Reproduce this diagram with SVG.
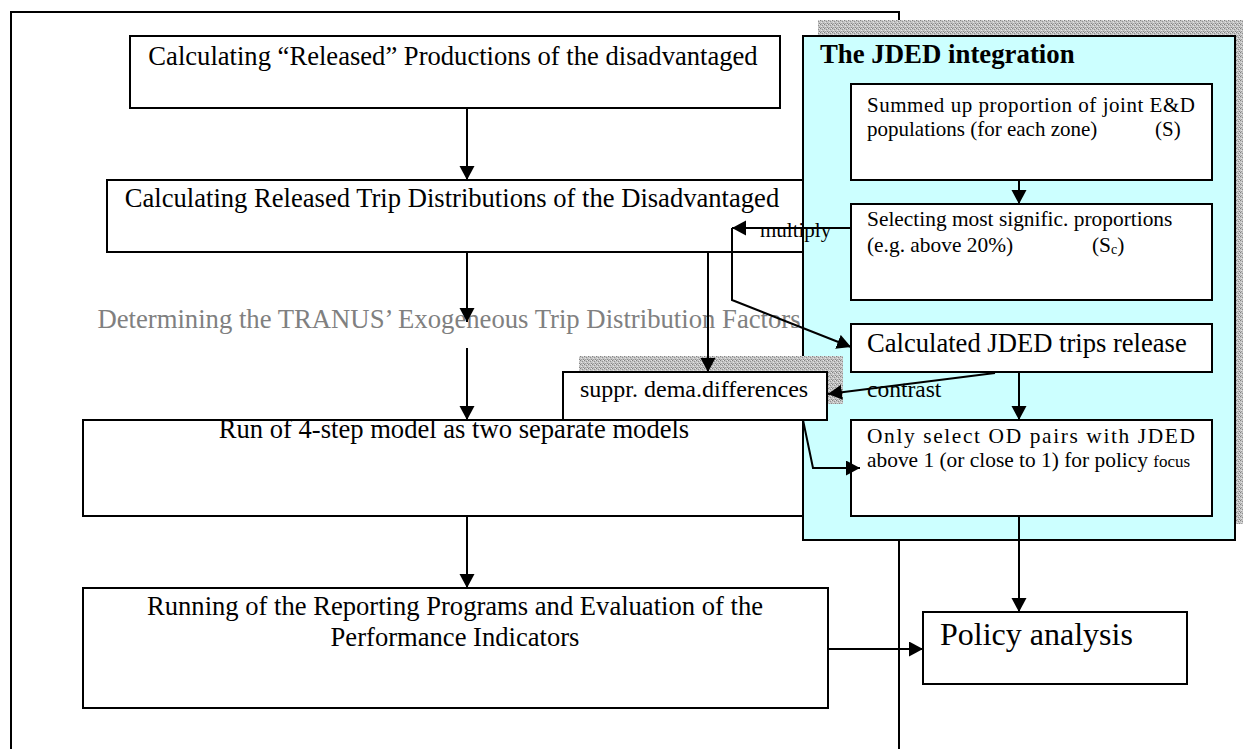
<svg xmlns="http://www.w3.org/2000/svg" width="1247" height="749" viewBox="0 0 1247 749">
<defs>
<style>
.box{fill:#fff;stroke:#000;stroke-width:2}
.t{font-family:"Liberation Serif","Times New Roman",serif;fill:#000}
.ln{fill:none;stroke:#000;stroke-width:2}
</style>
<pattern id="shade" width="4" height="4" patternUnits="userSpaceOnUse">
<rect width="4" height="4" fill="#c4c4c4"/>
<rect x="0" y="0" width="1" height="1" fill="#808080"/>
<rect x="2" y="1" width="1" height="1" fill="#909090"/>
<rect x="1" y="2" width="1" height="1" fill="#e4e4e4"/>
<rect x="3" y="3" width="1" height="1" fill="#888888"/>
<rect x="3" y="0" width="1" height="1" fill="#e8e8e8"/>
<rect x="1" y="3" width="1" height="1" fill="#a0a0a0"/>
</pattern>
<marker id="ah" markerUnits="userSpaceOnUse" markerWidth="16" markerHeight="16" refX="14" refY="7.5" orient="auto">
<path d="M0,0 L14,7.5 L0,15 z" fill="#000"/>
</marker>
</defs>

<g id="frame">
<polyline class="ln" points="11,749 11,12 899,12 899,749"/>
</g>

<g id="n-released-productions">
<rect class="box" x="130" y="36" width="650" height="72"/>
<text class="t" x="453" y="65" font-size="26.6" text-anchor="middle">Calculating “Released” Productions of the disadvantaged</text>
</g>

<g id="n-released-distributions">
<rect class="box" x="107" y="180" width="710" height="72"/>
<text class="t" x="452" y="207" font-size="26.6" text-anchor="middle">Calculating Released Trip Distributions of the Disadvantaged</text>
</g>

<g id="n-determining">
<text class="t" x="449" y="328" font-size="26.7" text-anchor="middle" style="fill:#808080">Determining the TRANUS’ Exogeneous Trip Distribution Factors</text>
</g>

<g id="n-run">
<rect class="box" x="83" y="420" width="745" height="96"/>
<text class="t" x="454" y="438" font-size="26.6" text-anchor="middle">Run of 4-step model as two separate models</text>
</g>

<g id="n-running">
<rect class="box" x="83" y="588" width="745" height="120"/>
<text class="t" x="455" y="615" font-size="26.6" text-anchor="middle">Running of the Reporting Programs and Evaluation of the</text>
<text class="t" x="455" y="646" font-size="26.6" text-anchor="middle">Performance Indicators</text>
</g>

<g id="n-jded-panel">
<rect x="818" y="20" width="425" height="504" fill="url(#shade)"/>
<rect x="803" y="36" width="432" height="504" fill="#ccffff" stroke="#000" stroke-width="2"/>
<text class="t" x="820" y="63" font-size="26.8" font-weight="bold">The JDED integration</text>
</g>

<g id="n-summed">
<rect class="box" x="851" y="84" width="361" height="96"/>
<text class="t" x="867" y="112" font-size="21" textLength="328" lengthAdjust="spacing">Summed up proportion of joint E&amp;D</text>
<text class="t" x="867" y="136" font-size="21">populations (for each zone)</text>
<text class="t" x="1155" y="136" font-size="21">(S)</text>
</g>

<g id="n-selecting">
<rect class="box" x="851" y="204" width="361" height="96"/>
<text class="t" x="867" y="226" font-size="21.4">Selecting most signific. proportions</text>
<text class="t" x="867" y="252" font-size="21.4">(e.g. above 20%)</text>
<text class="t" x="1092" y="252" font-size="21.4">(S<tspan font-size="14" dy="2">c</tspan><tspan dy="-2">)</tspan></text>
</g>

<g id="n-calculated">
<rect class="box" x="851" y="324" width="361" height="48"/>
<text class="t" x="867" y="352" font-size="26.6">Calculated JDED trips release</text>
</g>

<g id="n-only-select">
<rect class="box" x="851" y="420" width="361" height="96"/>
<text class="t" x="867" y="443" font-size="21.4" textLength="328" lengthAdjust="spacing">Only select OD pairs with JDED</text>
<text class="t" x="867" y="467" font-size="21.4">above 1 (or close to 1) for policy <tspan font-size="17">focus</tspan></text>
</g>

<g id="n-suppr">
<rect x="579" y="356" width="264" height="48" fill="url(#shade)"/>
<rect class="box" x="563" y="372" width="264" height="48"/>
<text class="t" x="580" y="397" font-size="24">suppr. dema.differences</text>
</g>

<g id="n-policy">
<rect class="box" x="923" y="612" width="264" height="72"/>
<text class="t" x="940" y="645" font-size="32">Policy analysis</text>
</g>

<g id="connectors">
<line class="ln" x1="467" y1="108" x2="467" y2="180" marker-end="url(#ah)"/>
<line class="ln" x1="467" y1="252" x2="467" y2="322" marker-end="url(#ah)"/>
<line class="ln" x1="467" y1="348" x2="467" y2="420" marker-end="url(#ah)"/>
<line class="ln" x1="467" y1="516" x2="467" y2="588" marker-end="url(#ah)"/>
<line class="ln" x1="828" y1="649" x2="923" y2="649" marker-end="url(#ah)"/>
<line class="ln" x1="708" y1="252" x2="708" y2="372" marker-end="url(#ah)"/>
<line class="ln" x1="1019" y1="180" x2="1019" y2="204" marker-end="url(#ah)"/>
<line class="ln" x1="1019" y1="372" x2="1019" y2="420" marker-end="url(#ah)"/>
<line class="ln" x1="1019" y1="516" x2="1019" y2="612" marker-end="url(#ah)"/>
<line class="ln" x1="851" y1="228" x2="732" y2="228" marker-end="url(#ah)"/>
<polyline class="ln" points="732,228 732,300 851,347" marker-end="url(#ah)"/>
<line class="ln" x1="995" y1="373" x2="828" y2="394" marker-end="url(#ah)"/>
<polyline class="ln" points="803,420 813,468 860,468" marker-end="url(#ah)"/>
<text class="t" x="760" y="237" font-size="21">multiply</text>
<text class="t" x="867" y="397" font-size="23.5">contrast</text>
</g>
</svg>
